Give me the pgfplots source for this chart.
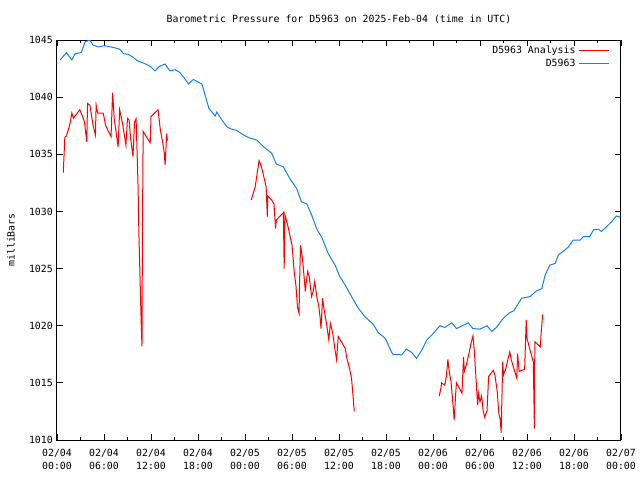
\documentclass[border=0pt]{standalone}
\usepackage{pgfplots}
\pgfplotsset{compat=1.18}
\usepackage{pgfplotstable}
\usepackage{fontspec}
\setmainfont{DejaVu Sans Mono}
\definecolor{gblue}{RGB}{20,128,235}
\definecolor{gred}{RGB}{255,0,0}

\pgfplotstableread{
h p
0.4 1043.25
1.2 1043.9
1.9 1043.25
2.3 1043.8
3.1 1043.9
3.6 1044.85
4.2 1045.0
4.6 1044.55
5.3 1044.4
6.1 1044.5
7.2 1044.35
8.0 1044.2
8.5 1043.8
9.1 1043.75
9.7 1043.5
10.2 1043.2
11.0 1043.0
11.9 1042.7
12.5 1042.3
13.1 1042.7
13.8 1042.9
14.4 1042.3
15.1 1042.4
15.7 1042.15
16.1 1041.8
16.8 1041.15
17.4 1041.55
18.5 1041.15
18.9 1040.2
19.4 1039.0
20.2 1038.35
20.4 1038.7
21.0 1038.05
21.7 1037.4
22.3 1037.2
22.9 1037.1
23.8 1036.7
24.5 1036.45
25.5 1036.25
26.3 1035.7
27.4 1035.1
28.0 1034.15
28.9 1033.9
29.7 1032.9
30.6 1032.0
31.2 1030.85
31.9 1030.65
32.5 1029.7
33.2 1028.4
33.8 1027.75
34.6 1026.35
35.5 1025.3
36.1 1024.3
36.8 1023.55
37.6 1022.55
38.5 1021.5
39.3 1020.8
40.4 1020.1
41.0 1019.4
41.9 1018.9
42.7 1017.7
42.9 1017.5
44.0 1017.45
44.6 1017.95
45.3 1017.65
45.9 1017.15
46.6 1017.9
47.2 1018.75
48.0 1019.3
48.9 1020.0
49.5 1019.85
50.4 1020.25
51.0 1019.75
51.9 1020.05
52.5 1020.25
53.1 1019.75
54.0 1019.7
54.9 1020.0
55.5 1019.5
56.1 1019.85
56.8 1020.5
57.2 1020.8
57.8 1021.15
58.3 1021.3
58.9 1021.95
59.3 1022.4
60.4 1022.55
61.2 1023.05
61.9 1023.25
62.3 1024.4
62.9 1025.3
63.6 1025.45
64.0 1026.2
64.6 1026.5
65.3 1026.9
65.9 1027.5
66.8 1027.5
67.2 1027.8
68.0 1027.8
68.5 1028.4
69.1 1028.45
69.5 1028.25
70.2 1028.7
70.8 1029.1
71.4 1029.6
71.9 1029.5
}\stationdata

\pgfplotstableread{
h p
0.8 1033.4
0.9 1034.9
1.0 1036.5
1.2 1036.6
1.6 1037.5
1.9 1038.6
2.1 1038.15
2.9 1038.9
3.1 1038.6
3.5 1037.85
3.8 1036.1
3.9 1039.45
4.2 1039.3
4.6 1037.55
4.9 1036.7
5.0 1039.3
5.2 1038.6
5.9 1038.6
6.2 1037.55
6.6 1036.95
6.9 1036.55
7.1 1040.4
7.3 1038.15
7.8 1035.65
8.0 1038.9
8.4 1037.55
8.8 1035.8
9.0 1038.15
9.2 1038.0
9.4 1036.4
9.7 1034.8
9.9 1037.85
10.1 1038.1
10.35 1032.2
10.45 1028.2
10.6 1024.2
10.75 1020.2
10.85 1018.2
10.9 1027.5
11.0 1037.0
11.9 1036.0
12.0 1038.3
12.9 1038.9
13.2 1037.1
13.5 1036.0
13.7 1035.1
13.8 1034.05
13.9 1035.4
14.0 1036.8
14.1 1036.2
14.2 nan
24.8 1031.0
24.9 1031.25
25.3 1032.15
25.8 1034.45
26.1 1033.9
26.5 1032.75
26.7 1032.15
26.85 1029.55
26.9 1031.35
27.4 1031.0
27.7 1030.65
27.9 1028.5
28.0 1029.25
28.9 1029.9
29.0 1025.0
29.1 1029.7
29.5 1028.65
30.0 1027.05
30.3 1024.6
30.5 1023.55
30.7 1021.65
30.9 1021.1
31.0 1024.75
31.1 1027.05
31.4 1025.45
31.7 1023.0
31.8 1023.7
32.0 1024.75
32.2 1024.3
32.5 1022.55
32.7 1023.0
32.9 1023.85
33.2 1022.4
33.4 1021.8
33.6 1020.65
33.7 1019.75
33.9 1022.4
34.1 1021.4
34.4 1020.2
34.7 1018.75
34.9 1020.2
35.2 1019.35
35.5 1017.85
35.7 1017.0
35.9 1019.05
36.3 1018.6
36.8 1018.0
37.0 1017.15
37.3 1016.4
37.6 1015.4
37.8 1013.8
37.95 1012.5
38.0 nan
48.8 1013.85
49.0 1014.5
49.1 1015.0
49.5 1014.8
49.7 1015.55
49.9 1017.05
50.05 1016.1
50.3 1015.1
50.5 1013.5
50.6 1012.75
50.7 1011.75
50.9 1014.1
51.0 1015.0
51.4 1014.5
51.7 1014.1
51.9 1017.25
52.0 1016.0
52.3 1016.7
52.6 1017.6
52.9 1018.6
53.1 1019.1
53.3 1017.6
53.5 1015.25
53.7 1013.05
53.8 1014.1
54.0 1013.35
54.2 1013.85
54.4 1012.6
54.6 1012.0
54.9 1012.6
55.1 1015.55
55.7 1016.1
55.9 1015.7
56.2 1014.25
56.4 1012.35
56.6 1011.75
56.7 1010.6
56.9 1016.85
57.0 1015.7
57.3 1016.25
57.6 1017.15
57.8 1017.7
58.0 1017.0
58.5 1015.85
58.7 1015.4
58.8 1017.55
59.0 1016.0
59.7 1016.2
59.9 1020.5
60.0 1018.9
60.4 1017.85
60.8 1016.85
60.95 1011.0
61.0 1018.6
61.7 1018.15
61.8 1019.3
62.0 1021.0
}\analysisdata

\begin{document}
\begin{tikzpicture}
\fontsize{7.4}{9.75}\selectfont
\begin{axis}[
  at={(0,0)}, anchor=south west,
  scale only axis, width=423pt, height=300pt,
  xmin=0, xmax=72, ymin=1010, ymax=1045,
  xtick={0,6,...,72},
  xticklabels={{02/04\\00:00},{02/04\\06:00},{02/04\\12:00},{02/04\\18:00},{02/05\\00:00},{02/05\\06:00},{02/05\\12:00},{02/05\\18:00},{02/06\\00:00},{02/06\\06:00},{02/06\\12:00},{02/06\\18:00},{02/07\\00:00}},
  minor x tick num=1,
  ytick={1010,1015,...,1045},
  tick pos=both, tick align=inside,
  major tick length=4.5pt, minor tick length=2.5pt,
  every tick/.style={black, line width=0.6pt},
  axis line style={black, line width=0.75pt},
  /pgf/number format/assume math mode=true,
  /pgf/number format/1000 sep={},
  tick label style={font=\fontsize{7.4}{9.75}\selectfont},
  xticklabel style={align=center, yshift=-4pt},
  yticklabel style={xshift=-0.5pt},
  ylabel={milliBars},
  ylabel style={font=\fontsize{7.4}{9.75}\selectfont, yshift=5.5pt},
  title={Barometric Pressure for D5963 on 2025-Feb-04 (time in UTC)},
  title style={font=\fontsize{7.4}{9.75}\selectfont, yshift=3.5pt},
  unbounded coords=jump,
  legend style={draw=none, fill=none, at={(0.983,0.995)}, anchor=north east,
    font=\fontsize{7.4}{9.75}\selectfont, inner sep=1pt, row sep=-1pt},
  legend cell align=right,
  legend plot pos=right,
  legend image code/.code={\draw[#1] (3pt,0pt) -- (26pt,0pt);},
]
\addplot[gred, line width=0.75pt, line join=miter] table[x=h, y=p] {\analysisdata};
\addlegendentry{D5963 Analysis}
\addplot[gblue, line width=0.75pt] table[x=h, y=p] {\stationdata};
\addlegendentry{D5963}
\end{axis}
\pgfresetboundingbox
\path[use as bounding box] (-42.75pt,-30pt) rectangle (437.25pt,330pt);
\end{tikzpicture}
\end{document}
